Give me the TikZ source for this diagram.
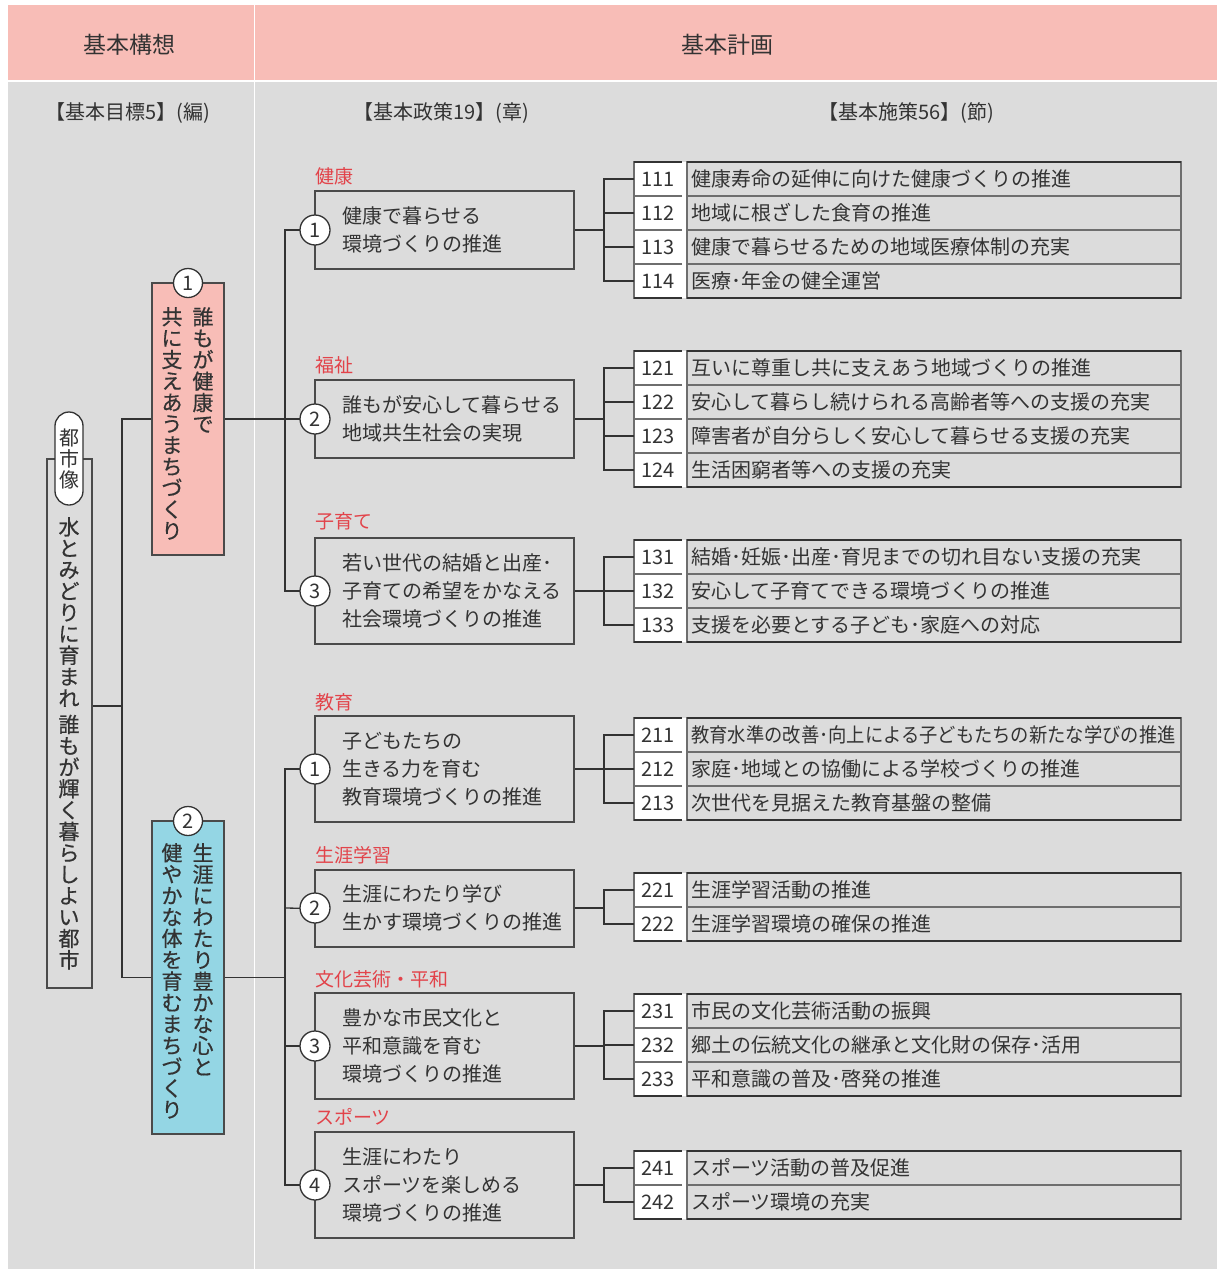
\documentclass[tikz,border=0pt]{standalone}
\usepackage{fontspec}
\setmainfont{Noto Sans CJK JP}
\newfontfamily\medfont[FakeBold=0.6]{Noto Sans CJK JP}
\definecolor{hdr}{HTML}{F8BDB7}
\definecolor{bgc}{HTML}{DCDCDC}
\definecolor{pinkc}{HTML}{F8BDB7}
\definecolor{bluec}{HTML}{94D6E4}
\definecolor{redc}{HTML}{E2434A}
\definecolor{txt}{HTML}{333333}
\definecolor{linec}{HTML}{333333}
\definecolor{boxc}{HTML}{4A4A4A}
\definecolor{sepc}{HTML}{6E6E6E}
\tikzset{
  conn/.style={draw=linec, line width=1.3pt},
  pbox/.style={draw=boxc, line width=1.5pt, minimum width=259pt, inner sep=0pt},
  ptext/.style={anchor=west, align=left, inner sep=0pt, text=txt, font=\fontsize{20pt}{28pt}\selectfont},
  pcirc/.style={circle, draw=linec, line width=1.3pt, fill=white, minimum size=30pt, inner sep=0pt, text=txt, font=\fontsize{20pt}{24pt}\selectfont},
  gcirc/.style={circle, draw=linec, line width=1.3pt, fill=white, minimum size=29pt, inner sep=0pt, text=txt, font=\fontsize{20pt}{24pt}\selectfont},
  lbl/.style={anchor=west, inner sep=0pt, text=redc, font=\fontsize{19pt}{22pt}\selectfont},
  gbox/.style={draw=boxc, line width=1.5pt, minimum width=72pt, inner sep=0pt},
  vcol/.style={anchor=north, align=center, inner sep=0pt, text=txt, font=\medfont\fontsize{21pt}{21.4pt}\selectfont},
  hdrtext/.style={inner sep=0pt, text=txt, font=\fontsize{23pt}{26pt}\selectfont},
  subtext/.style={inner sep=0pt, text=txt, font=\fontsize{20pt}{24pt}\selectfont},
  numtext/.style={inner sep=0pt, text=txt, font=\fontsize{20pt}{24pt}\selectfont},
  itemtext/.style={anchor=west, inner sep=0pt, text=txt, font=\fontsize{20pt}{24pt}\selectfont},
  cellline/.style={draw=sepc, line width=1.5pt},
  edgeline/.style={draw=linec, line width=1.6pt}
}
% one row of the item table: #1 top y, #2 number, #3 text
\newcommand\itemrow[3]{%
  \fill[white] (634,#1) rectangle (686,#1+34);
  \draw[cellline] (682,#1) -- (634,#1) -- (634,#1+34) -- (682,#1+34);
  \draw[cellline] (687,#1) rectangle (1181,#1+34);
  \node[numtext] (n#2) at (658,#1+17) {#2};
  \node[itemtext] (t#2) at (691,#1+17) {#3};
  \coordinate (e#2) at (634,#1+17);
}
% darker top and bottom edges of an item group: #1 top y, #2 bottom y
\newcommand\groupedge[2]{%
  \draw[edgeline] (634,#1) -- (682,#1);
  \draw[edgeline] (687,#1) -- (1181,#1);
  \draw[edgeline] (634,#2) -- (682,#2);
  \draw[edgeline] (687,#2) -- (1181,#2);
}
\begin{document}
\begin{tikzpicture}[x=1pt,y=-1pt]
\useasboundingbox (0,0) rectangle (1217,1269);
\fill[white] (0,0) rectangle (1217,1269);
\fill[hdr] (8,5) rectangle (1217,80);
\fill[bgc] (8,82) rectangle (1217,1269);
\draw[white, line width=1.6pt] (254.5,5) -- (254.5,1269);

% headers
\node[hdrtext] (h1) at (129,45) {基本構想};
\node[hdrtext] (h2) at (727,45) {基本計画};
\node[subtext] (s1) at (128,113) {【基本目標5】(編)};
\node[subtext] (s2) at (441,113) {【基本政策19】(章)};
\node[subtext] (s3) at (906,113) {【基本施策56】(節)};

% city box
\node[draw=boxc, line width=1.5pt, minimum width=45pt, minimum height=529pt, inner sep=0pt] (city) at (69.5,723.5) {};
\node[vcol] (cityt) at (69,517) {水\\と\\み\\ど\\り\\に\\育\\ま\\れ\\[5pt]誰\\も\\が\\輝\\く\\暮\\ら\\し\\よ\\い\\都\\市};
\node[draw=linec, line width=1.3pt, fill=white, rounded corners=14pt, minimum width=28pt, minimum height=93pt, inner sep=0pt, align=center, text=txt, font=\fontsize{20pt}{21pt}\selectfont] (cap) at (69,458.5) {都\\市\\像};

% level-1 connectors
\coordinate (cj) at (122,706);
\draw[conn] (city.east |- cj) -- (cj);
\node[gbox, fill=pinkc, minimum height=272pt] (g1) at (188,419) {};
\node[gbox, fill=bluec, minimum height=313pt] (g2) at (188,977.5) {};
\draw[conn] (g1.west) -- (122,419) -- (122,977.5) -- (g2.west);

% goal texts
\node[vcol] (g1a) at (203,307) {誰\\も\\が\\健\\康\\で};
\node[vcol] (g1b) at (172,307) {共\\に\\支\\え\\あ\\う\\ま\\ち\\づ\\く\\り};
\node[vcol] (g2a) at (203,843) {生\\涯\\に\\わ\\た\\り\\豊\\か\\な\\心\\と};
\node[vcol] (g2b) at (172,843) {健\\や\\か\\な\\体\\を\\育\\む\\ま\\ち\\づ\\く\\り};
\node[gcirc] (gc1) at (188,283) {1};
\node[gcirc] (gc2) at (188,821) {2};

% policy boxes
\node[pbox, minimum height=78pt] (p11) at (444.5,230) {};
\node[pbox, minimum height=78pt] (p12) at (444.5,419) {};
\node[pbox, minimum height=106pt] (p13) at (444.5,591) {};
\node[pbox, minimum height=106pt] (p21) at (444.5,769) {};
\node[pbox, minimum height=77pt] (p22) at (444.5,908.5) {};
\node[pbox, minimum height=106pt] (p23) at (444.5,1046) {};
\node[pbox, minimum height=106pt] (p24) at (444.5,1185) {};

\node[ptext] (pt11) at (342,230) {健康で暮らせる\\環境づくりの推進};
\node[ptext] (pt12) at (342,419) {誰もが安心して暮らせる\\地域共生社会の実現};
\node[ptext] (pt13) at (342,591) {若い世代の結婚と出産･\\子育ての希望をかなえる\\社会環境づくりの推進};
\node[ptext] (pt21) at (342,769) {子どもたちの\\生きる力を育む\\教育環境づくりの推進};
\node[ptext] (pt22) at (342,908) {生涯にわたり学び\\生かす環境づくりの推進};
\node[ptext] (pt23) at (342,1046) {豊かな市民文化と\\平和意識を育む\\環境づくりの推進};
\node[ptext] (pt24) at (342,1185) {生涯にわたり\\スポーツを楽しめる\\環境づくりの推進};

\node[lbl] (l11) at (315,176) {健康};
\node[lbl] (l12) at (315,365) {福祉};
\node[lbl] (l13) at (315,521) {子育て};
\node[lbl] (l21) at (315,702) {教育};
\node[lbl] (l22) at (315,855) {生涯学習};
\node[lbl] (l23) at (315,979) {文化芸術・平和};
\node[lbl] (l24) at (315,1117) {スポーツ};

% level-2 connectors
\draw[conn] (g1.east) -- (285,419);
\draw[conn] (g2.east) -- (285,977.5);
\draw[conn] (p11.west) -- (285,230) -- (285,591) -- (p13.west);
\draw[conn] (285,419) -- (p12.west);
\draw[conn] (p21.west) -- (285,769) -- (285,1185) -- (p24.west);
\draw[conn] (285,908) -- (p22.west);
\draw[conn] (285,1046) -- (p23.west);

\node[pcirc] (c11) at (315,230) {1};
\node[pcirc] (c12) at (315,419) {2};
\node[pcirc] (c13) at (315,591) {3};
\node[pcirc] (c21) at (315,769) {1};
\node[pcirc] (c22) at (315,908) {2};
\node[pcirc] (c23) at (315,1046) {3};
\node[pcirc] (c24) at (315,1185) {4};

% item tables
\itemrow{162}{111}{健康寿命の延伸に向けた健康づくりの推進}
\itemrow{196}{112}{地域に根ざした食育の推進}
\itemrow{230}{113}{健康で暮らせるための地域医療体制の充実}
\itemrow{264}{114}{医療･年金の健全運営}
\groupedge{162}{298}

\itemrow{351}{121}{互いに尊重し共に支えあう地域づくりの推進}
\itemrow{385}{122}{安心して暮らし続けられる高齢者等への支援の充実}
\itemrow{419}{123}{障害者が自分らしく安心して暮らせる支援の充実}
\itemrow{453}{124}{生活困窮者等への支援の充実}
\groupedge{351}{487}

\itemrow{540}{131}{結婚･妊娠･出産･育児までの切れ目ない支援の充実}
\itemrow{574}{132}{安心して子育てできる環境づくりの推進}
\itemrow{608}{133}{支援を必要とする子ども･家庭への対応}
\groupedge{540}{642}

\itemrow{718}{211}{\scalebox{0.915}[1]{教育水準の改善･向上による子どもたちの新たな学びの推進}}
\itemrow{752}{212}{家庭･地域との協働による学校づくりの推進}
\itemrow{786}{213}{次世代を見据えた教育基盤の整備}
\groupedge{718}{820}

\itemrow{873}{221}{生涯学習活動の推進}
\itemrow{907}{222}{生涯学習環境の確保の推進}
\groupedge{873}{941}

\itemrow{994}{231}{市民の文化芸術活動の振興}
\itemrow{1028}{232}{郷土の伝統文化の継承と文化財の保存･活用}
\itemrow{1062}{233}{平和意識の普及･啓発の推進}
\groupedge{994}{1096}

\itemrow{1151}{241}{スポーツ活動の普及促進}
\itemrow{1185}{242}{スポーツ環境の充実}
\groupedge{1151}{1219}

% level-3 connectors
\draw[conn] (p11.east) -- (604,230);
\draw[conn] (e111) -- (604,179) -- (604,281) -- (e114);
\draw[conn] (604,213) -- (e112);
\draw[conn] (604,247) -- (e113);

\draw[conn] (p12.east) -- (604,419);
\draw[conn] (e121) -- (604,368) -- (604,470) -- (e124);
\draw[conn] (604,402) -- (e122);
\draw[conn] (604,436) -- (e123);

\draw[conn] (p13.east) -- (e132);
\draw[conn] (e131) -- (604,557) -- (604,625) -- (e133);

\draw[conn] (p21.east) -- (e212);
\draw[conn] (e211) -- (604,735) -- (604,803) -- (e213);

\draw[conn] (p22.east |- 0,908) -- (604,908);
\draw[conn] (e221) -- (604,890) -- (604,924) -- (e222);

\draw[conn] (p23.east) -- (604,1046);
\draw[conn] (604,1045) -- (e232);
\draw[conn] (e231) -- (604,1011) -- (604,1079) -- (e233);

\draw[conn] (p24.east) -- (604,1185);
\draw[conn] (e241) -- (604,1168) -- (604,1202) -- (e242);
\end{tikzpicture}
\end{document}
